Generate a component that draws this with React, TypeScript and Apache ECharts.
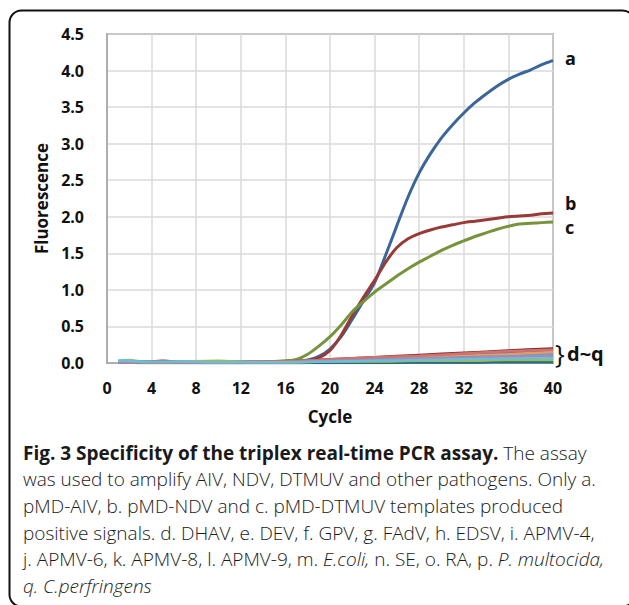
import React, { useEffect, useRef } from "react";
import * as echarts from "echarts";

const CYCLES = [1, 2, 3, 4, 5, 6, 7, 8, 9, 10, 11, 12, 13, 14, 15, 16, 17, 18, 19, 20, 21, 22, 23, 24, 25, 26, 27, 28, 29, 30, 31, 32, 33, 34, 35, 36, 37, 38, 39, 40];

const A_VALUES = [0.02, 0.02, 0.02, 0.01, 0.01, 0.01, 0.01, 0.01, 0.01, 0.01, 0.01, 0.01, 0.01, 0.01, 0.01, 0.02, 0.02, 0.04, 0.09, 0.19, 0.36, 0.6, 0.85, 1.1, 1.48, 1.88, 2.27, 2.6, 2.86, 3.08, 3.26, 3.42, 3.56, 3.68, 3.79, 3.88, 3.95, 4.01, 4.08, 4.14];
const B_VALUES = [0.02, 0.02, 0.01, 0.01, 0.02, 0.01, 0.01, 0.01, 0.01, 0.01, 0.01, 0.01, 0.01, 0.01, 0.01, 0.01, 0.02, 0.03, 0.07, 0.17, 0.38, 0.65, 0.9, 1.13, 1.38, 1.58, 1.7, 1.77, 1.82, 1.86, 1.89, 1.92, 1.94, 1.96, 1.98, 2.0, 2.01, 2.02, 2.04, 2.05];
const C_VALUES = [0.02, 0.03, 0.02, 0.01, 0.01, 0.01, 0.01, 0.01, 0.01, 0.01, 0.01, 0.01, 0.01, 0.01, 0.02, 0.03, 0.05, 0.12, 0.23, 0.36, 0.52, 0.7, 0.84, 0.97, 1.08, 1.19, 1.29, 1.38, 1.46, 1.54, 1.61, 1.67, 1.73, 1.78, 1.83, 1.87, 1.9, 1.91, 1.92, 1.93];

const LOW_CYCLES = [1, 2, 3, 5, 7, 10, 13, 16, 20, 24, 28, 32, 36, 40];
const LOW_NAMES = ["d", "e", "f", "g", "h", "i", "j", "k", "l", "m", "n", "o", "p", "q"];
const LOW_COLORS = ["#8064A2", "#4BACC6", "#F79646", "#2C4D75", "#8E2F2C", "#5F7530", "#4D3B62", "#276A7C", "#E59C62", "#729ACA", "#CD7371", "#9BBB59", "#A08CBA", "#6FBDD4"];
const D_VALUES = [0.02, 0.02, 0.01, 0.01, 0.01, 0.01, 0.01, 0.02, 0.04, 0.07, 0.09, 0.12, 0.14, 0.17];
const E_VALUES = [0.03, 0.03, 0.02, 0.02, 0.02, 0.02, 0.02, 0.02, 0.04, 0.06, 0.08, 0.09, 0.11, 0.13];
const F_VALUES = [0.01, 0.01, 0.01, 0.01, 0.01, 0.01, 0.01, 0.01, 0.02, 0.03, 0.03, 0.04, 0.05, 0.06];
const G_VALUES = [0.01, 0.01, 0.0, 0.0, 0.0, 0.0, 0.0, 0.0, 0.01, 0.01, 0.01, 0.01, 0.02, 0.02];
const H_VALUES = [0.02, 0.02, 0.01, 0.03, 0.01, 0.01, 0.01, 0.02, 0.05, 0.08, 0.11, 0.14, 0.17, 0.2];
const I_VALUES = [0.01, 0.01, 0.01, 0.01, 0.01, 0.0, 0.0, 0.0, 0.01, 0.01, 0.02, 0.02, 0.03, 0.03];
const J_VALUES = [0.02, 0.02, 0.01, 0.01, 0.01, 0.01, 0.01, 0.01, 0.02, 0.03, 0.04, 0.05, 0.07, 0.08];
const K_VALUES = [0.01, 0.01, 0.0, 0.0, 0.0, 0.0, 0.0, 0.0, 0.0, 0.0, 0.01, 0.01, 0.01, 0.01];
const L_VALUES = [0.01, 0.01, 0.01, 0.01, 0.01, 0.01, 0.01, 0.02, 0.04, 0.06, 0.08, 0.1, 0.12, 0.15];
const M_VALUES = [0.02, 0.02, 0.01, 0.01, 0.01, 0.01, 0.01, 0.01, 0.03, 0.05, 0.06, 0.08, 0.09, 0.11];
const N_VALUES = [0.01, 0.02, 0.01, 0.01, 0.01, 0.01, 0.02, 0.02, 0.05, 0.08, 0.1, 0.13, 0.16, 0.18];
const O_VALUES = [0.02, 0.04, 0.01, 0.01, 0.02, 0.03, 0.01, 0.01, 0.02, 0.02, 0.03, 0.03, 0.04, 0.04];
const P_VALUES = [0.01, 0.01, 0.01, 0.01, 0.01, 0.01, 0.01, 0.01, 0.03, 0.04, 0.06, 0.07, 0.09, 0.1];
const Q_VALUES = [0.03, 0.03, 0.02, 0.02, 0.02, 0.01, 0.01, 0.01, 0.02, 0.03, 0.04, 0.05, 0.06, 0.07];
const LOW_VALUES = [D_VALUES, E_VALUES, F_VALUES, G_VALUES, H_VALUES, I_VALUES, J_VALUES, K_VALUES, L_VALUES, M_VALUES, N_VALUES, O_VALUES, P_VALUES, Q_VALUES];

const X_TICKS = [0, 4, 8, 12, 16, 20, 24, 28, 32, 36, 40];
const Y_TICKS = [0.0, 0.5, 1.0, 1.5, 2.0, 2.5, 3.0, 3.5, 4.0, 4.5];

const CAPTION_LINES = [
  "{b|Fig. 3 Specificity of the triplex real-time PCR assay.}{n| The assay}",
  "{n|was used to amplify AIV, NDV, DTMUV and other pathogens. Only a.}",
  "{n|pMD-AIV, b. pMD-NDV and c. pMD-DTMUV templates produced}",
  "{n|positive signals. d. DHAV, e. DEV, f. GPV, g. FAdV, h. EDSV, i. APMV-4,}",
  "{n|j. APMV-6, k. APMV-8, l. APMV-9, m. }{i|E.coli,}{n| n. SE, o. RA, p. }{i|P. multocida,}",
  "{i|q. C.perfringens}",
];

const FONT = "'Open Sans', 'DejaVu Sans', sans-serif";

export default function App() {
  const ref = useRef<HTMLDivElement>(null);
  useEffect(() => {
    if (!ref.current) return;
    const chart = echarts.init(ref.current, undefined, { renderer: "svg" });
    const pair = (xs: number[], ys: number[]) => xs.map((x, i) => [x, ys[i]]);
    const mainSeries = [
      { name: "a", values: A_VALUES, color: "#3A6699", label: "a", offset: [0, -2] },
      { name: "b", values: B_VALUES, color: "#983B37", label: "b", offset: [0, -10] },
      { name: "c", values: C_VALUES, color: "#77943D", label: "c", offset: [0, 5] },
    ].map((s) => ({
      type: "line",
      name: s.name,
      data: pair(CYCLES, s.values),
      smooth: 0.3,
      showSymbol: false,
      lineStyle: { color: s.color, width: 3 },
      itemStyle: { color: s.color },
      endLabel: {
        show: true,
        formatter: s.label,
        distance: 12,
        offset: s.offset,
        color: "#111",
        fontSize: 18,
        fontWeight: "bold",
        fontFamily: FONT,
      },
      z: 2,
    }));
    const lowLabel = (n: string) => {
      if (n === "p") {
        return {
          show: true,
          formatter: "}",
          distance: 2,
          offset: [0, -3],
          color: "#111",
          fontSize: 26,
          fontWeight: "normal",
          fontFamily: FONT,
        };
      }
      if (n === "m") {
        return {
          show: true,
          formatter: "d~q",
          distance: 14,
          offset: [0, -1],
          color: "#111",
          fontSize: 20,
          fontWeight: "bold",
          fontFamily: FONT,
        };
      }
      return { show: false };
    };
    const lowSeries = LOW_NAMES.map((n, idx) => ({
      type: "line",
      name: n,
      data: pair(LOW_CYCLES, LOW_VALUES[idx]),
      smooth: 0.3,
      showSymbol: false,
      lineStyle: { color: LOW_COLORS[idx], width: 2.5 },
      itemStyle: { color: LOW_COLORS[idx] },
      endLabel: lowLabel(n),
      z: 3,
    }));

    chart.setOption({
      animation: false,
      backgroundColor: "#fff",
      grid: {
        left: 107,
        top: 34,
        width: 446,
        height: 329,
        show: true,
        borderColor: "#6a6a6a",
        borderWidth: 1.5,
        backgroundColor: "transparent",
      },
      xAxis: {
        type: "value",
        min: X_TICKS[0],
        max: X_TICKS[X_TICKS.length - 1],
        interval: 4,
        name: "Cycle",
        nameLocation: "middle",
        nameGap: 45,
        nameTextStyle: { fontSize: 17, fontWeight: "bold", color: "#111", fontFamily: FONT },
        axisLine: { show: true, lineStyle: { color: "#a6a6a6", width: 1.5 } },
        axisTick: { show: false },
        axisLabel: {
          margin: 17,
          fontSize: 16,
          fontWeight: "bold",
          color: "#111",
          fontFamily: FONT,
        },
        splitLine: { show: true, lineStyle: { color: "#dadada", width: 1.5 } },
      },
      yAxis: {
        type: "value",
        min: Y_TICKS[0],
        max: Y_TICKS[Y_TICKS.length - 1],
        interval: 0.5,
        name: "Fluorescence",
        nameLocation: "middle",
        nameGap: 55,
        nameTextStyle: { fontSize: 17, fontWeight: "bold", color: "#111", fontFamily: FONT },
        axisLine: { show: true, lineStyle: { color: "#a6a6a6", width: 1.5 } },
        axisTick: { show: false },
        axisLabel: {
          margin: 23,
          fontSize: 16,
          fontWeight: "bold",
          color: "#111",
          fontFamily: FONT,
          formatter: (v: number) => v.toFixed(1),
        },
        splitLine: { show: true, lineStyle: { color: "#dadada", width: 1.5 } },
      },
      graphic: [
        {
          type: "rect",
          shape: { x: 9.5, y: 10.5, width: 625, height: 596, r: 12 },
          style: { fill: "none", stroke: "#111", lineWidth: 2 },
          silent: true,
        },
        ...CAPTION_LINES.map((line, i) => ({
          type: "text",
          x: 23,
          y: 452.6 + i * 26.7,
          style: {
            text: line,
            verticalAlign: "middle",
            rich: {
              b: { fontSize: 19, fontWeight: "bold", fontFamily: FONT, fill: "#1a1a1a" },
              n: { fontSize: 19, fontWeight: 300, fontFamily: FONT, fill: "#1a1a1a" },
              i: { fontSize: 19, fontWeight: 300, fontStyle: "italic", fontFamily: FONT, fill: "#1a1a1a" },
            },
          },
          silent: true,
        })),
      ],
      series: [...mainSeries, ...lowSeries],
    });
    return () => chart.dispose();
  }, []);
  return (
    <div
      ref={ref}
      style={{ position: "absolute", left: 0, top: 0, width: 629, height: 605, background: "#fff" }}
    />
  );
}
